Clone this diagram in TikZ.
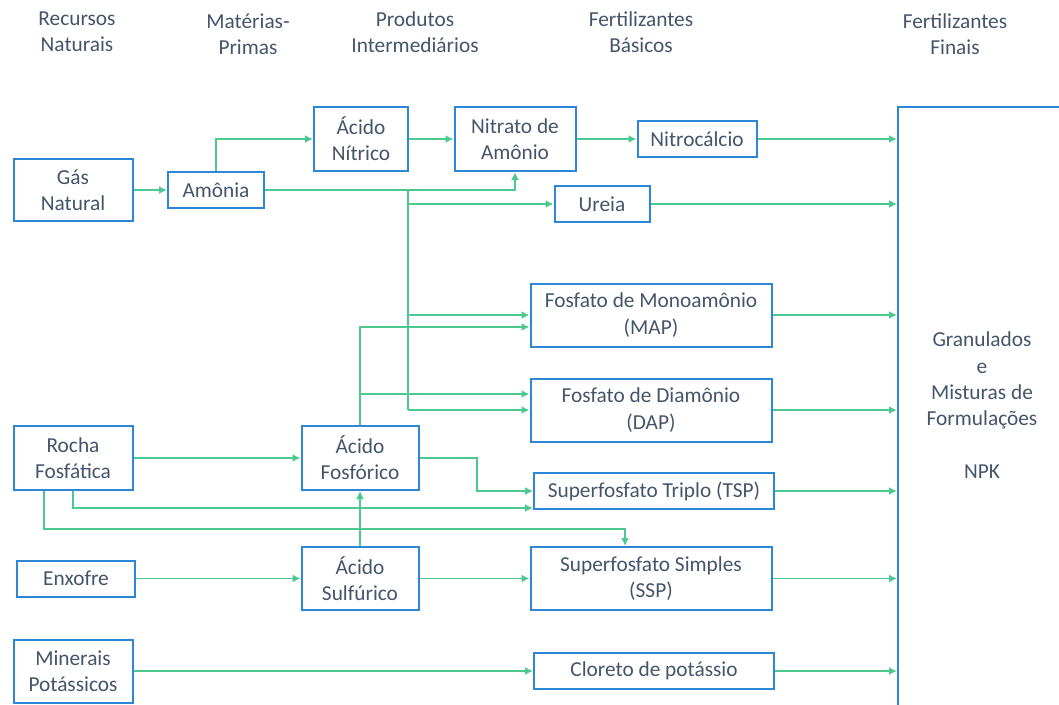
\documentclass[tikz,border=0pt]{standalone}
\usepackage{fontspec}
\setmainfont{Carlito}
\usetikzlibrary{arrows.meta}
\definecolor{boxblue}{HTML}{2E86D6}
\definecolor{flowgreen}{HTML}{4CC98F}
\definecolor{textgray}{HTML}{44546A}
\tikzset{
  box/.style={draw=boxblue, line width=1.5pt, text=textgray, align=center, inner sep=0pt,
    font=\fontsize{16}{19.7}\selectfont},
  boxsize/.style 2 args={minimum width=#1*0.75pt, minimum height=#2*0.75pt},
  head/.style={text=textgray, align=center, inner sep=0pt, font=\fontsize{16}{19.7}\selectfont},
  flow/.style={draw=flowgreen, line width=1.2pt, -{Latex[length=6pt,width=6pt]}},
  link/.style={draw=flowgreen, line width=1.2pt},
}
\begin{document}
\begin{tikzpicture}[x=0.75pt,y=-0.75pt]
  \useasboundingbox (0,0) rectangle (1059,704);
  \clip (0,0) rectangle (1059,704);
  % column headings
  \node[head] (hrec) at (77,32) {Recursos\\Naturais};
  \node[head] (hmat) at (248,34) {Matérias-\\Primas};
  \node[head] (hprod) at (415,32) {Produtos\\Intermediários};
  \node[head] (hbas) at (641,32) {Fertilizantes\\Básicos};
  \node[head] (hfin) at (955,34) {Fertilizantes\\Finais};

  % boxes
  \node[box, boxsize={119}{62}] (gas) at (73,190) {Gás\\Natural};
  \node[box, boxsize={96}{36}] (amonia) at (216,190) {Amônia};
  \node[box, boxsize={94}{64}] (nitrico) at (361,139) {Ácido\\Nítrico};
  \node[box, boxsize={121}{64}] (nitrato) at (515,139) {Nitrato de\\Amônio};
  \node[box, boxsize={119}{36}] (nitrocal) at (697,139) {Nitrocálcio};
  \node[box, boxsize={95}{36}] (ureia) at (602,204) {Ureia};
  \node[box, boxsize={241}{63}] (map) at (651,315) {Fosfato de Monoamônio\\(MAP)};
  \node[box, boxsize={241}{63}] (dap) at (651,410) {Fosfato de Diamônio\\(DAP)};
  \node[box, boxsize={240}{36}] (tsp) at (654,491) {Superfosfato Triplo (TSP)};
  \node[box, boxsize={241}{63}] (ssp) at (651,578.5) {Superfosfato Simples\\(SSP)};
  \node[box, boxsize={240}{36}] (kcl) at (654,671) {Cloreto de potássio};
  \node[box, boxsize={119}{64}] (rocha) at (73,458) {Rocha\\Fosfática};
  \node[box, boxsize={117}{64}] (fosforico) at (360,458) {Ácido\\Fosfórico};
  \node[box, boxsize={118}{36}] (enxofre) at (76,578.5) {Enxofre};
  \node[box, boxsize={117}{63}] (sulfurico) at (360,578.5) {Ácido\\Sulfúrico};
  \node[box, boxsize={119}{63}] (minerais) at (73,671) {Minerais\\Potássicos};
  \node[box, boxsize={172}{605}] (npk) at (984,409.5) {};
  \node[head] (npktext) at (982,405)
    {Granulados\\e\\Misturas de\\Formulações\\[19.7pt]NPK};

  % nitrogen branch
  \coordinate (split) at (408,190);
  \coordinate (splitlow) at (408,410);
  \draw[flow] (gas) -- (amonia);
  \draw[flow] (amonia.north) |- (nitrico.west);
  \draw[flow] (nitrico) -- (nitrato);
  \draw[flow] (nitrato) -- (nitrocal);
  \draw[flow] (amonia.east) -| (nitrato.south);
  \draw[link] (split) -- (splitlow);
  \draw[flow] (split |- ureia.west) -- (ureia.west);
  \draw[flow] (split |- map.west) -- (map.west);
  \draw[flow] (splitlow) -- (splitlow -| dap.west);

  % phosphate branch
  \coordinate (tspturn) at (477,458);
  \coordinate (sspdrop) at (625,529);
  \draw[flow] (rocha) -- (fosforico);
  \draw[flow] (fosforico.north) |- ([yshift=-9pt]map.west);
  \draw[flow] ([yshift=12pt]dap.west -| fosforico.north) -- ([yshift=12pt]dap.west);
  \draw[flow] (fosforico.east) -- (tspturn) |- (tsp.west);
  \draw[flow] (rocha.south) |- ([yshift=-12.75pt]tsp.west);
  \draw[flow] ([xshift=-21.75pt]rocha.south) |- (sspdrop) -- (sspdrop |- ssp.north);
  \draw[flow] (sulfurico) -- (fosforico);
  \draw[flow] (enxofre) -- (sulfurico);
  \draw[flow] (sulfurico) -- (ssp);

  % potassium branch
  \draw[flow] (minerais) -- (kcl);

  % into final fertilizers
  \foreach \src in {nitrocal,ureia,map,dap,tsp,ssp,kcl}
    \draw[flow] (\src) -- (\src -| npk.west);
\end{tikzpicture}
\end{document}
